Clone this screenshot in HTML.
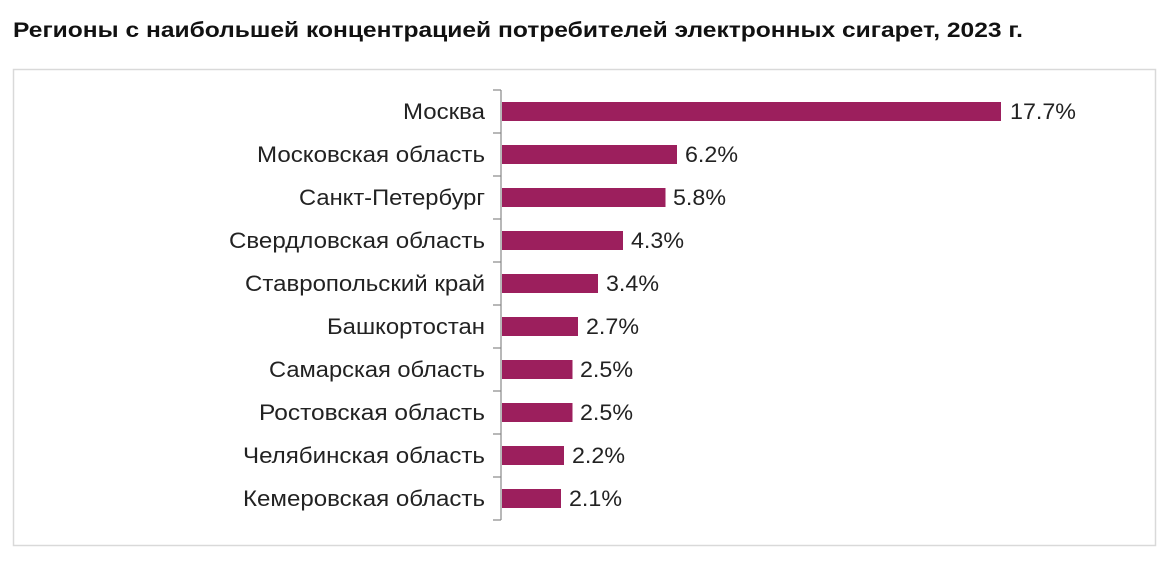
<!DOCTYPE html>
<html><head><meta charset="utf-8"><style>
body{margin:0;width:1170px;height:568px;background:#fff;font-family:"Liberation Sans",sans-serif;overflow:hidden}
</style></head><body>
<svg width="1170" height="568" xmlns="http://www.w3.org/2000/svg" font-family="Liberation Sans, sans-serif">
<text x="13" y="37" font-size="21" font-weight="bold" fill="#111" textLength="1010" lengthAdjust="spacingAndGlyphs">Регионы с наибольшей концентрацией потребителей электронных сигарет, 2023 г.</text>
<rect x="13.5" y="69.5" width="1142" height="476" fill="#fff" stroke="#d9d9d9" stroke-width="1.5"/>
<g stroke="#888" stroke-width="1.2">
<line x1="501" y1="90" x2="501" y2="520"/>
<line x1="493" y1="90" x2="501" y2="90"/><line x1="493" y1="133" x2="501" y2="133"/><line x1="493" y1="176" x2="501" y2="176"/><line x1="493" y1="219" x2="501" y2="219"/><line x1="493" y1="262" x2="501" y2="262"/><line x1="493" y1="305" x2="501" y2="305"/><line x1="493" y1="348" x2="501" y2="348"/><line x1="493" y1="391" x2="501" y2="391"/><line x1="493" y1="434" x2="501" y2="434"/><line x1="493" y1="477" x2="501" y2="477"/><line x1="493" y1="520" x2="501" y2="520"/>
</g>
<g fill="#9c1f5d">
<rect x="502" y="102" width="499" height="19"/>
<rect x="502" y="145" width="175" height="19"/>
<rect x="502" y="188" width="163.5" height="19"/>
<rect x="502" y="231" width="121" height="19"/>
<rect x="502" y="274" width="96" height="19"/>
<rect x="502" y="317" width="76" height="19"/>
<rect x="502" y="360" width="70.5" height="19"/>
<rect x="502" y="403" width="70.5" height="19"/>
<rect x="502" y="446" width="62" height="19"/>
<rect x="502" y="489" width="59" height="19"/>
</g>
<g font-size="22" fill="#222" text-anchor="end">
<text x="485" y="119" textLength="82" lengthAdjust="spacingAndGlyphs">Москва</text>
<text x="485" y="162" textLength="228" lengthAdjust="spacingAndGlyphs">Московская область</text>
<text x="485" y="205" textLength="186" lengthAdjust="spacingAndGlyphs">Санкт-Петербург</text>
<text x="485" y="248" textLength="256" lengthAdjust="spacingAndGlyphs">Свердловская область</text>
<text x="485" y="291" textLength="240" lengthAdjust="spacingAndGlyphs">Ставропольский край</text>
<text x="485" y="334" textLength="158" lengthAdjust="spacingAndGlyphs">Башкортостан</text>
<text x="485" y="377" textLength="216" lengthAdjust="spacingAndGlyphs">Самарская область</text>
<text x="485" y="420" textLength="226" lengthAdjust="spacingAndGlyphs">Ростовская область</text>
<text x="485" y="463" textLength="242" lengthAdjust="spacingAndGlyphs">Челябинская область</text>
<text x="485" y="506" textLength="242" lengthAdjust="spacingAndGlyphs">Кемеровская область</text>
</g>
<g font-size="22" fill="#222">
<text x="1010" y="119" textLength="66" lengthAdjust="spacingAndGlyphs">17.7%</text>
<text x="685" y="162" textLength="53" lengthAdjust="spacingAndGlyphs">6.2%</text>
<text x="673" y="205" textLength="53" lengthAdjust="spacingAndGlyphs">5.8%</text>
<text x="631" y="248" textLength="53" lengthAdjust="spacingAndGlyphs">4.3%</text>
<text x="606" y="291" textLength="53" lengthAdjust="spacingAndGlyphs">3.4%</text>
<text x="586" y="334" textLength="53" lengthAdjust="spacingAndGlyphs">2.7%</text>
<text x="580" y="377" textLength="53" lengthAdjust="spacingAndGlyphs">2.5%</text>
<text x="580" y="420" textLength="53" lengthAdjust="spacingAndGlyphs">2.5%</text>
<text x="572" y="463" textLength="53" lengthAdjust="spacingAndGlyphs">2.2%</text>
<text x="569" y="506" textLength="53" lengthAdjust="spacingAndGlyphs">2.1%</text>
</g>
</svg>
</body></html>
